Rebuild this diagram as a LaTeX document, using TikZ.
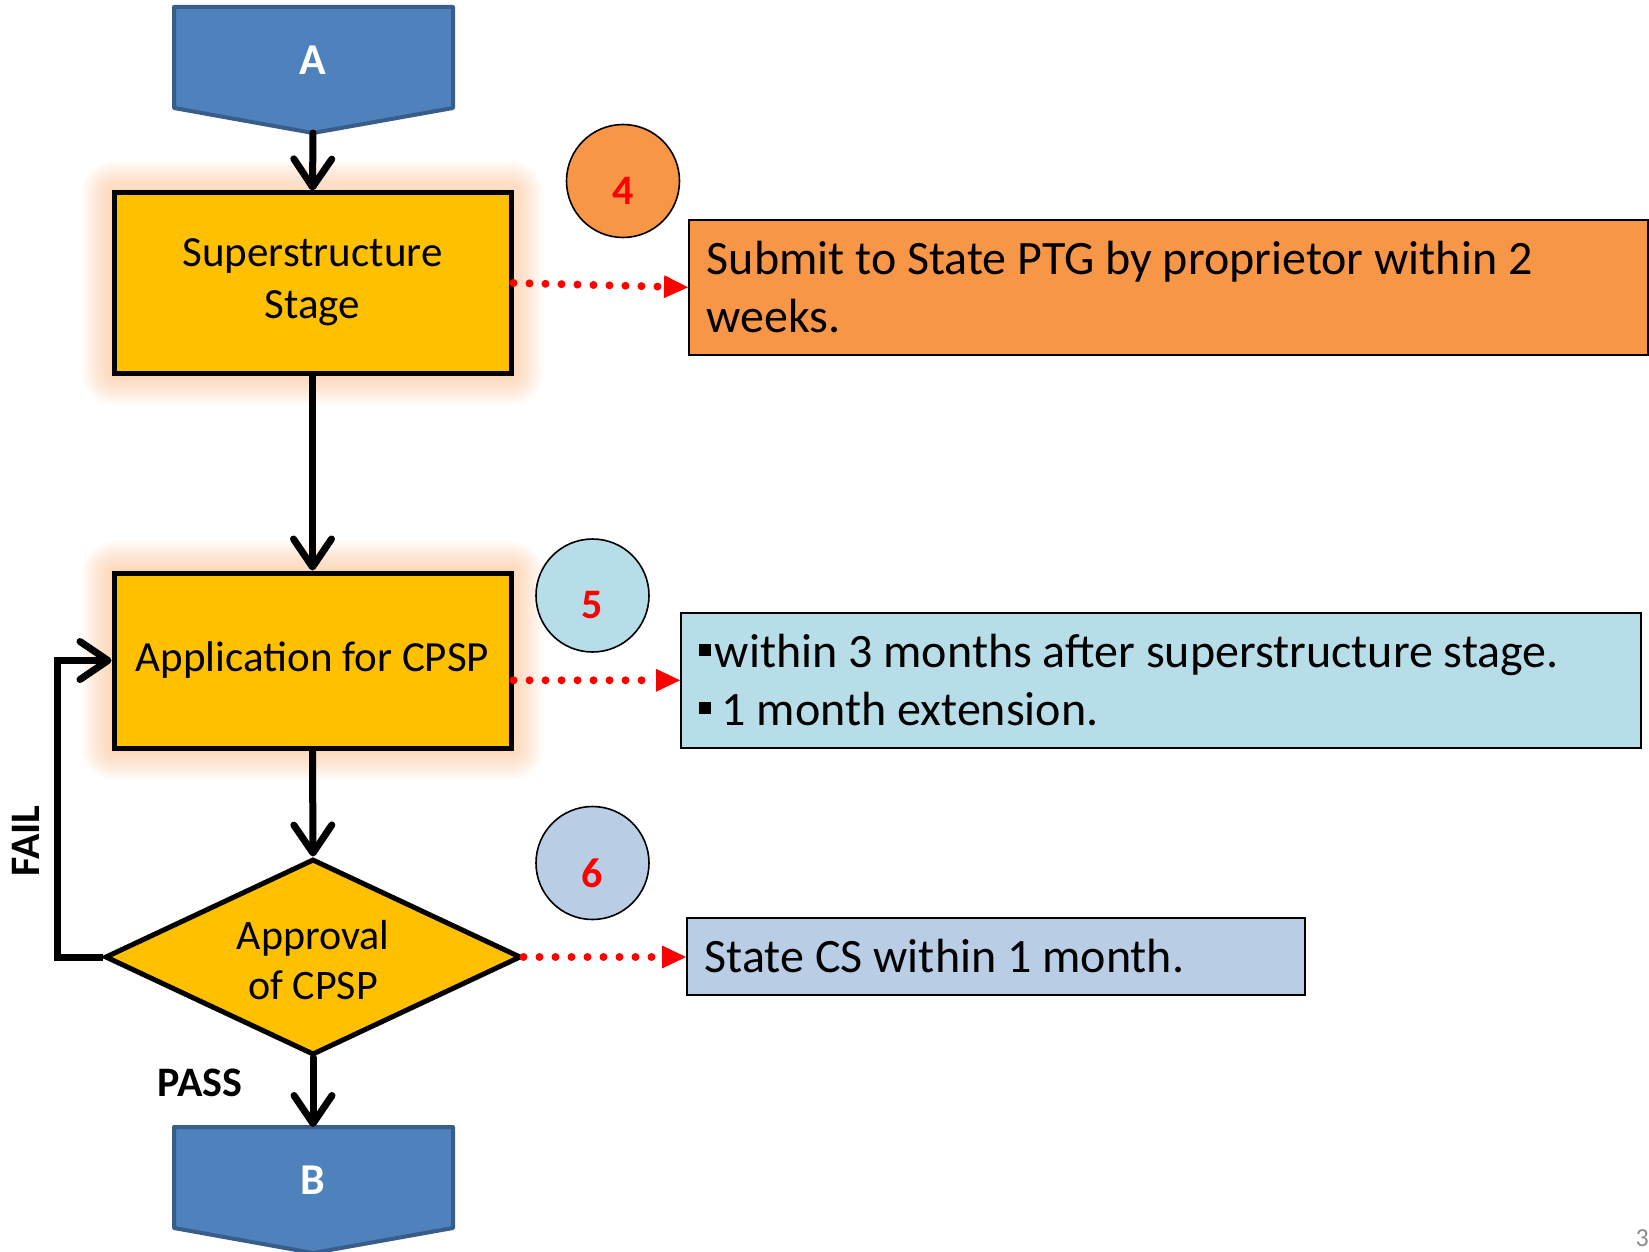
\documentclass[tikz,border=0pt]{standalone}
\usepackage{fontspec}
\setmainfont{Carlito}
\usetikzlibrary{arrows.meta,shapes.geometric}

\definecolor{flowblue}{HTML}{4F81BD}
\definecolor{flowblueedge}{HTML}{385D8A}
\definecolor{stagegold}{HTML}{FFC000}
\definecolor{noteorange}{HTML}{F79646}
\definecolor{notecyan}{HTML}{B7DDE8}
\definecolor{noteblue}{HTML}{B9CDE5}
\definecolor{pagegray}{HTML}{8C8C8C}
\definecolor{halo}{HTML}{F9A35E}

\tikzset{
  every node/.append style={execute at begin node={\spaceskip=0pt\xspaceskip=0pt\relax}},
  terminal/.style={draw=flowblueedge, fill=flowblue, line width=4pt, line join=round},
  termtext/.style={text=white, font=\fontsize{44}{50}\selectfont\bfseries},
  stagebox/.style={draw=black, fill=stagegold, line width=5pt, minimum width=397pt,
    inner sep=0pt, align=center, font=\fontsize{43}{54}\selectfont},
  decision/.style={diamond, draw=black, fill=stagegold, line width=5pt, inner sep=0pt,
    minimum width=416pt, minimum height=196pt},
  dectext/.style={align=center, font=\fontsize{42}{50}\selectfont},
  notebox/.style={draw=black, line width=1.6pt, anchor=north west, inner xsep=18pt, inner ysep=0pt,
    align=left, font=\fontsize{48}{58}\selectfont},
  badge/.style={circle, draw=black, line width=1.6pt, minimum size=113pt, inner sep=0pt},
  badgenum/.style={text=red, font=\fontsize{42}{48}\selectfont\bfseries},
  flowarrow/.style={line width=7pt, line cap=round,
    -{Straight Barb[length=28pt,width=38pt,round]}},
  dotarrow/.style={red, line width=8pt, line cap=round, dash pattern=on 0pt off 16pt,
    -{Triangle[length=24pt,width=23pt,line width=0pt]}},
  flowlabel/.style={font=\fontsize{42}{48}\selectfont\bfseries},
  glow/.style={halo, opacity=0.035}
}

\newcommand{\sqbullet}{\rule[12pt]{12pt}{12pt}}

\begin{document}
\begin{tikzpicture}[x=1pt,y=-1pt]
  \useasboundingbox (0,0) rectangle (1649,1252);

  % soft halo behind the two process boxes
  \foreach \r in {2,4,...,32} {
    \fill[glow, rounded corners=\r pt] (114-\r,193-\r) rectangle (511+\r,373+\r);
    \fill[glow, rounded corners=\r pt] (114-\r,573-\r) rectangle (511+\r,748+\r);
  }

  % connector A (top) and B (bottom)
  \draw[terminal] (174,7) -- (453,7) -- (453,108) -- (313,133) -- (174,108) -- cycle;
  \node[termtext] (A) at (313,60) {A};
  \coordinate (Atip) at (313,133);

  \draw[terminal] (174,1127) -- (453,1127) -- (453,1228) -- (313,1253) -- (174,1228) -- cycle;
  \node[termtext] (B) at (313,1180) {B};
  \coordinate (Btop) at (313,1127);

  % process steps
  \node[stagebox, minimum height=180pt] (sup) at (312.5,283) {Superstructure\\[-2pt]Stage\rule[-8pt]{0pt}{8pt}};
  \node[stagebox, minimum height=175pt] (app) at (312.5,660.5) {Application for CPSP};
  \node[decision] (dec) at (313,957) {};
  \node[dectext] (dectxt) at (313,960) {Approval\\of CPSP};

  % numbered badges
  \node[badge, fill=noteorange] (c4) at (623,181) {};
  \node[badgenum] (n4lbl) at ([yshift=-10pt]c4.center) {4};
  \node[badge, fill=notecyan] (c5) at (592.5,595.5) {};
  \node[badgenum] (n5lbl) at ([yshift=-10pt]c5.center) {5};
  \node[badge, fill=noteblue] (c6) at (592.5,863) {};
  \node[badgenum] (n6lbl) at ([yshift=-10pt]c6.center) {6};

  % notes
  \node[notebox, fill=noteorange, minimum width=959pt, minimum height=135pt, text width=923pt]
    (n4) at (688,219) {Submit to State PTG by proprietor within 2\\weeks.};
  \node[notebox, fill=notecyan, minimum width=960pt, minimum height=135pt, text width=924pt]
    (n5) at (680,612) {\sqbullet\hspace{4pt}within 3 months after superstructure stage.\\\sqbullet\ 1 month extension.};
  \node[notebox, fill=noteblue, minimum width=618pt, minimum height=77pt, text width=582pt]
    (n6) at (686,917) {State CS within 1 month.};

  % main flow
  \coordinate (failx) at (57,0);
  \draw[flowarrow] (Atip) -- (sup.north);
  \draw[flowarrow] (sup.south) -- (app.north);
  \draw[flowarrow] (app.south) -- (dec.north);
  \draw[flowarrow] (dec.south) -- (Btop);
  \draw[flowarrow, line join=miter, line cap=butt] (dec.west) -- (dec.west -| failx) |- (app.west);

  \node[flowlabel, rotate=90] (fail) at (26,841) {FAIL};
  \node[flowlabel] (pass) at (200,1083) {PASS};

  % links to the notes
  \draw[dotarrow] (sup.east) -- (n4.west);
  \draw[dotarrow] (n5.west -| app.east) -- (n5.west);
  \draw[dotarrow] (dec.east) -- (n6.west |- dec.east);

  % page number
  \node[text=pagegray, anchor=east, inner sep=0pt, font=\fontsize{26}{30}\selectfont] (page) at (1649,1238) {3};
\end{tikzpicture}
\end{document}
